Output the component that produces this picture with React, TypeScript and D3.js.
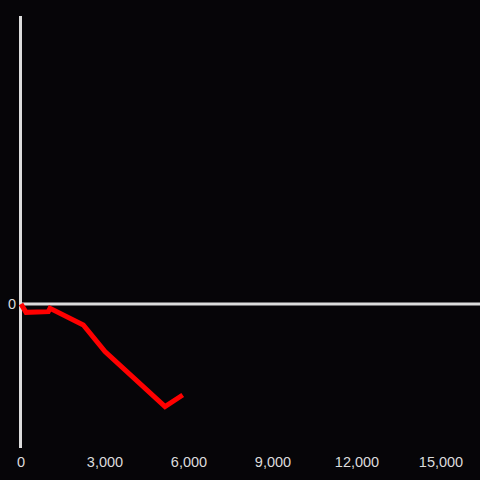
import React from "react";
import * as d3 from "d3";

const xValues = [0, 180, 975, 1036, 2225, 3000, 5143, 5775];
const yValues = [0, -58, -53, -30, -146, -330, -713, -632];
const xTicks = [0, 3000, 6000, 9000, 12000, 15000];
const yTicks = [0];

const W = 480;
const H = 480;

export default function App() {
  const x = d3.scaleLinear().domain([0, 15000]).range([21, 441]);
  const y = d3.scaleLinear().domain([-1000, 2000]).range([448, 16]);
  const pts = xValues.map((v, i) => [v, yValues[i]] as [number, number]);
  const line = d3
    .line<[number, number]>()
    .x((d) => x(d[0]))
    .y((d) => y(d[1]));
  const fmt = d3.format(",");
  return (
    <div style={{ position: "fixed", left: 0, top: 0, width: W, height: H }}>
      <svg width={W} height={H} style={{ display: "block" }}>
        <rect x={0} y={0} width={W} height={H} fill="#060508" />
        <line x1={20.5} x2={20.5} y1={y(2000)} y2={y(-1000)} stroke="#dcdcdc" strokeWidth={3} />
        <line x1={20.5} x2={W} y1={y(0)} y2={y(0)} stroke="#dcdcdc" strokeWidth={3} />
        <path d={line(pts) || ""} fill="none" stroke="#ff0000" strokeWidth={5} strokeLinejoin="miter" strokeLinecap="butt" />
        {xTicks.map((t) => (
          <text key={t} x={x(t)} y={466.5} textAnchor="middle" fill="#dcdcdc" fontSize={14.5} fontFamily="'Liberation Sans', Arial, sans-serif">
            {fmt(t)}
          </text>
        ))}
        {yTicks.map((t) => (
          <text key={t} x={16} y={y(t)} dy="0.35em" textAnchor="end" fill="#dcdcdc" fontSize={14.5} fontFamily="'Liberation Sans', Arial, sans-serif">
            {fmt(t)}
          </text>
        ))}
      </svg>
    </div>
  );
}
